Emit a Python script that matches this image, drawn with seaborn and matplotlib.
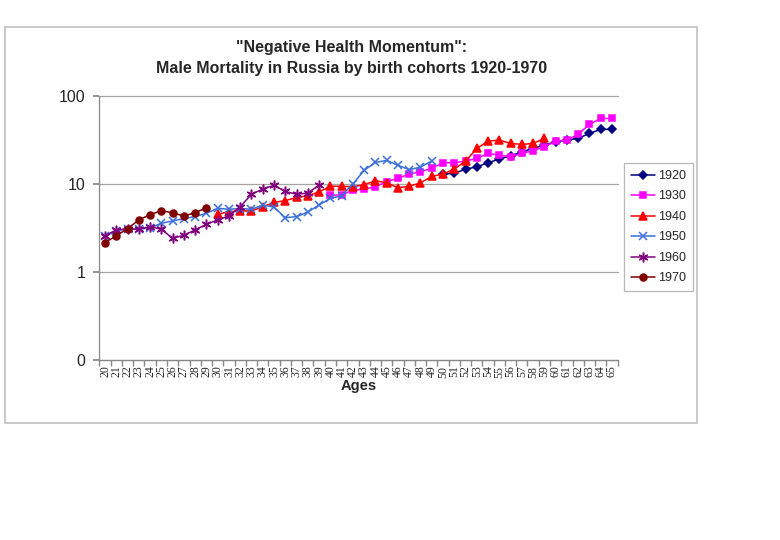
import numpy as np
import pandas as pd
import matplotlib
matplotlib.use("Agg")
import matplotlib.pyplot as plt
import seaborn as sns
from matplotlib.patches import Rectangle

# data (ages and mortality per 1000)
ages = list(range(20, 66))
cohorts = ["1920", "1930", "1940", "1950", "1960", "1970"]
start_age = {"1920": 50, "1930": 40, "1940": 30, "1950": 20, "1960": 20, "1970": 20}

m1920 = [13.1, 13.3, 14.9, 15.8, 17.6, 19.4, 21.0, 23.5, 25.6, 28.0, 30.5, 31.9, 33.4, 38.0, 42.2, 42.2]
m1930 = [7.55, 7.55, 8.6, 8.77, 9.4, 10.7, 11.7, 13.1, 13.9, 15.2, 17.6, 17.6, 18.4, 19.7, 22.5, 21.5,
         20.6, 22.5, 24.1, 26.7, 31.0, 31.9, 37.3, 48.1, 56.2, 56.2]
m1940 = [4.56, 4.89, 4.98, 4.98, 5.56, 6.24, 6.52, 7.1, 7.4, 8.2, 9.5, 9.5, 9.4, 9.9, 11.0, 10.4,
         9.15, 9.5, 10.4, 12.3, 13.1, 14.9, 18.4, 25.6, 31.0, 31.9, 29.2, 28.5, 29.2, 33.4]
m1950 = [2.55, 2.95, 3.1, 3.08, 3.2, 3.6, 3.83, 4.07, 4.3, 4.68, 5.34, 5.2, 5.3, 5.2, 5.8, 5.5,
         4.17, 4.29, 4.84, 5.82, 6.92, 7.4, 10.1, 14.4, 17.8, 18.7, 16.5, 14.7, 15.7, 18.4]
m1960 = [2.6, 3.03, 3.13, 3.08, 3.3, 3.08, 2.43, 2.63, 3.03, 3.51, 3.93, 4.36, 5.56, 7.7, 8.84,
         9.74, 8.3, 7.7, 7.96, 9.8]
m1970 = [2.17, 2.6, 3.13, 3.93, 4.52, 5.0, 4.75, 4.36, 4.75, 5.42]

values = {"1920": m1920, "1930": m1930, "1940": m1940, "1950": m1950, "1960": m1960, "1970": m1970}
colors = {"1920": "#000080", "1930": "#FF00FF", "1940": "#FF0000",
          "1950": "#3A6FD8", "1960": "#800080", "1970": "#800000"}
markers = {"1920": "D", "1930": "s", "1940": "^", "1950": "x", "1960": (6, 2, 0), "1970": "o"}
msizes = {"1920": 4.5, "1930": 5, "1940": 6, "1950": 6, "1960": 7, "1970": 5}

# long table
rows = []
for c in cohorts:
    for i, v in enumerate(values[c]):
        rows.append({"cohort": c, "age": start_age[c] + i, "rate": v})
df = pd.DataFrame(rows)

sns.set_theme(style="white")
plt.rcParams["font.family"] = ["Liberation Sans", "DejaVu Sans"]

fig = plt.figure(figsize=(7.8, 5.4), dpi=100)
ax = fig.add_axes([99.4 / 780, 1 - 360 / 540, (617.6 - 99.4) / 780, (360 - 96.5) / 540])

for c in cohorts:
    d = df[df["cohort"] == c]
    sns.lineplot(data=d, x="age", y="rate", ax=ax, color=colors[c], marker=markers[c],
                 markersize=msizes[c], markeredgecolor=colors[c], markeredgewidth=1.1,
                 linewidth=1.1, label=c, legend=False)

ax.set_yscale("log")
ax.set_ylim(0.1, 100)
ax.set_yticks([0.1, 1, 10, 100])
ax.set_yticklabels(["0", "1", "10", "100"], fontsize=11.5)
ax.yaxis.set_minor_locator(matplotlib.ticker.NullLocator())
ax.set_xlim(19.5, 65.5)
ax.set_xticks(ages)
ax.set_xticklabels([str(a) for a in ages], rotation=90, fontsize=8.5, family="Liberation Serif")
ax.set_xticks(np.arange(19.5, 66, 1), minor=True)
ax.tick_params(axis="x", which="major", length=0, pad=4)
ax.tick_params(axis="x", which="minor", length=4, color="#888888", direction="out", bottom=True)
ax.tick_params(axis="y", which="major", length=4, color="#888888", direction="out", left=True, pad=6)

ax.grid(axis="y", which="major", color="#A6A6A6", linewidth=0.9)
for gl in ax.get_ygridlines():
    gl.set_clip_on(False)
ax.set_axisbelow(True)
for s in ["top", "right"]:
    ax.spines[s].set_visible(False)
for s in ["left", "bottom"]:
    ax.spines[s].set_color("#888888")
    ax.spines[s].set_linewidth(0.9)

ax.set_xlabel("Ages", fontsize=10.5, fontweight="bold", labelpad=1)
ax.set_ylabel("")

fig.text(352 / 780, 1 - 58 / 540, "\"Negative Health Momentum\":\nMale Mortality in Russia by birth cohorts 1920-1970",
         ha="center", va="center", fontsize=11.5, fontweight="bold", linespacing=1.5)

handles, labels = ax.get_legend_handles_labels()
leg = fig.legend(handles, labels, loc="upper left", bbox_to_anchor=(624 / 780, 1 - 163 / 540),
                 fontsize=9, frameon=True, fancybox=False, edgecolor="#A6A6A6",
                 handlelength=1.9, labelspacing=0.68, borderpad=0.55, handletextpad=0.3,
                 borderaxespad=0)
leg.get_frame().set_linewidth(0.9)

# outer chart border
fig.patches.append(Rectangle((5 / 780, 1 - 423 / 540), 692 / 780, 396 / 540,
                             transform=fig.transFigure, fill=False, edgecolor="#C0C0C0", linewidth=1.2))

fig.savefig("out.png", dpi=100, facecolor="white")
